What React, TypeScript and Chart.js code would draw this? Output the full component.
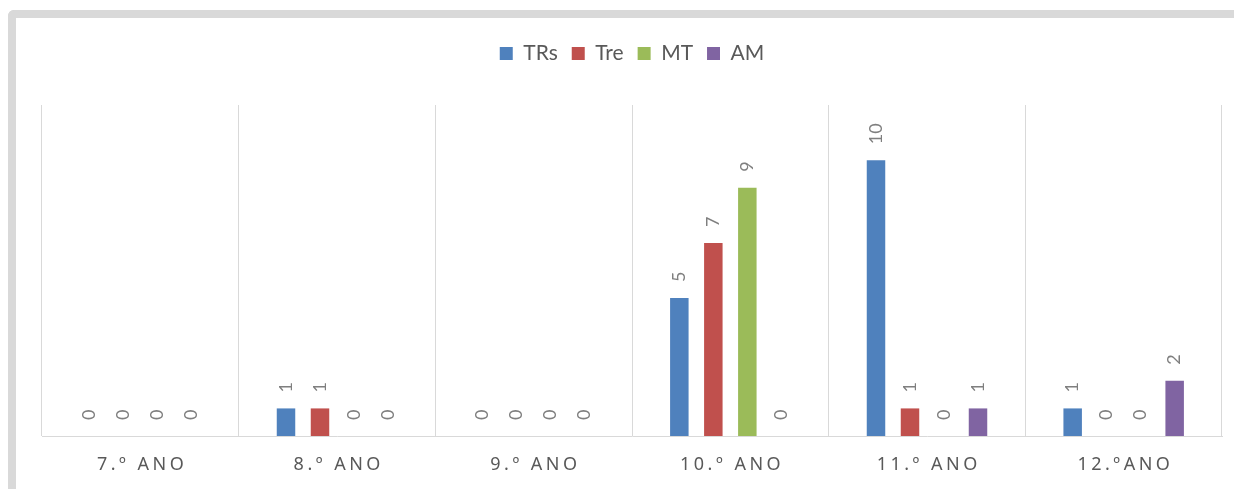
import React, { useEffect, useRef } from 'react';
import { Chart, registerables } from 'chart.js';

Chart.register(...registerables);

const categories = ['7.º ANO', '8.º ANO', '9.º ANO', '10.º ANO', '11.º ANO', '12.ºANO'];
const seriesNames = ['TRs', 'Tre', 'MT', 'AM'];
const trsValues = [0, 1, 0, 5, 10, 1];
const treValues = [0, 1, 0, 7, 1, 0];
const mtValues = [0, 0, 0, 9, 0, 0];
const amValues = [0, 0, 0, 0, 1, 2];
const seriesColors = ['#4f81bd', '#c0504d', '#9bbb59', '#8064a2'];
const yMin = 0;
const yMax = 12;

const FONT = 'Lato, "Open Sans", sans-serif';
const AXIS_FONT = '"Noto Sans", "Open Sans", sans-serif';

const legendSpacer = {
  id: 'legendSpacer',
  beforeInit(chart: any) {
    const legend = chart.legend;
    if (!legend) return;
    const origFit = legend.fit;
    legend.fit = function () {
      origFit.call(this);
      this.height += 31;
    };
  },
};

const dataLabels = {
  id: 'dataLabels',
  afterDatasetsDraw(chart: any) {
    const ctx = chart.ctx;
    ctx.save();
    ctx.font = `18px ${FONT}`;
    ctx.fillStyle = '#7f7f7f';
    chart.data.datasets.forEach((ds: any, i: number) => {
      const meta = chart.getDatasetMeta(i);
      meta.data.forEach((el: any, j: number) => {
        const v = ds.data[j];
        ctx.save();
        ctx.translate(el.x, el.y - 16);
        ctx.rotate(-Math.PI / 2);
        ctx.textAlign = 'left';
        ctx.textBaseline = 'middle';
        ctx.fillText(String(v), 0, 0);
        ctx.restore();
      });
    });
    ctx.restore();
  },
};

const xLabels = {
  id: 'xLabels',
  afterDraw(chart: any) {
    const ctx = chart.ctx;
    const scale = chart.scales.x;
    const spacing = 3.5;
    ctx.save();
    ctx.font = `18px ${AXIS_FONT}`;
    ctx.fillStyle = '#595959';
    ctx.textAlign = 'center';
    ctx.textBaseline = 'middle';
    try {
      (ctx as any).letterSpacing = `${spacing}px`;
    } catch (e) {}
    categories.forEach((c, i) => {
      const x = scale.getPixelForValue(i);
      ctx.fillText(c, x + spacing / 2, chart.chartArea.bottom + 29);
    });
    ctx.restore();
  },
};

export default function App() {
  const canvasRef = useRef<HTMLCanvasElement | null>(null);

  useEffect(() => {
    if (!canvasRef.current) return;
    const values = [trsValues, treValues, mtValues, amValues];
    const chart = new Chart(canvasRef.current, {
      type: 'bar',
      data: {
        labels: categories,
        datasets: seriesNames.map((name, i) => ({
          label: name,
          data: values[i],
          backgroundColor: seriesColors[i],
          borderWidth: 0,
          categoryPercentage: 0.6915,
          barPercentage: 0.544,
        })),
      },
      options: {
        responsive: false,
        animation: false,
        layout: { padding: { top: 11, bottom: 53, left: 26, right: 12 } },
        plugins: {
          legend: {
            position: 'top',
            labels: {
              boxWidth: 13,
              boxHeight: 13,
              padding: 14,
              color: '#595959',
              font: { family: FONT, size: 21 },
            },
          },
          tooltip: { enabled: false },
          title: { display: false },
        },
        scales: {
          x: {
            grid: {
              display: true,
              color: '#d9d9d9',
              lineWidth: 1,
              drawTicks: false,
              offset: true,
            },
            border: { display: true, color: '#d9d9d9', width: 1 },
            ticks: { display: false },
          },
          y: {
            display: false,
            min: yMin,
            max: yMax,
          },
        },
      },
      plugins: [legendSpacer, dataLabels, xLabels],
    });
    return () => chart.destroy();
  }, []);

  return (
    <div
      style={{
        position: 'fixed',
        left: 8,
        top: 10,
        width: 1240,
        height: 500,
        borderLeft: '8px solid #d9d9d9',
        borderTop: '8px solid #d9d9d9',
        borderTopLeftRadius: 6,
        background: '#ffffff',
      }}
    >
      <canvas ref={canvasRef} width={1218} height={471} style={{ display: 'block' }} />
    </div>
  );
}
